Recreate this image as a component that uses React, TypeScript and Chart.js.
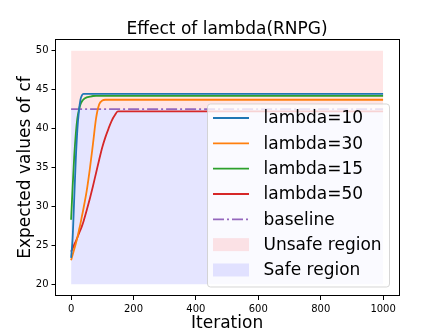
import React, { useEffect, useRef } from "react";
import { Chart, registerables } from "chart.js";

Chart.register(...registerables);

// ---- data ----
const iterations = [0, 5, 10, 15, 20, 25, 30, 35, 40, 50, 60, 70, 80, 90, 100, 110, 120, 130, 140, 150, 160, 1000];
const lambda10 = [23.4, 26.0, 31.0, 36.0, 39.8, 42.2, 43.7, 44.3, 44.45, 44.45, 44.45, 44.45, 44.45, 44.45, 44.45, 44.45, 44.45, 44.45, 44.45, 44.45, 44.45, 44.45];
const lambda30 = [23.1, 23.8, 24.5, 25.2, 26.0, 26.9, 27.8, 28.8, 29.8, 32.0, 34.8, 38.0, 41.3, 43.1, 43.6, 43.7, 43.7, 43.7, 43.7, 43.7, 43.7, 43.7];
const lambda15 = [28.3, 32.6, 36.4, 39.3, 41.3, 42.4, 43.1, 43.5, 43.75, 44.0, 44.1, 44.18, 44.2, 44.2, 44.2, 44.2, 44.2, 44.2, 44.2, 44.2, 44.2, 44.2];
const lambda50 = [24.2, 24.6, 25.1, 25.5, 26.0, 26.5, 27.0, 27.5, 28.1, 29.5, 31.0, 32.6, 34.3, 36.0, 37.6, 38.9, 40.0, 41.0, 41.7, 42.2, 42.2, 42.2];
const baselineX = [0, 1000];
const baselineY = [42.5, 42.5];
const regionX = [0, 1000];
const unsafeTop = [50, 50];
const unsafeBottom = 42.5;
const safeTop = [42.5, 42.5];
const safeBottom = 20;
const xTicks = [0, 200, 400, 600, 800, 1000];
const yTicks = [20, 25, 30, 35, 40, 45, 50];
const legendLabels = ["lambda=10", "lambda=30", "lambda=15", "lambda=50", "baseline", "Unsafe region", "Safe region"];

const FONT = "'DejaVu Sans', 'Liberation Sans', sans-serif";
const pts = (xs: number[], ys: number[]) => xs.map((x, i) => ({ x, y: ys[i] }));

const overlayPlugin = {
  id: "overlay",
  afterDraw(chart: any) {
    const ctx = chart.ctx as CanvasRenderingContext2D;
    const a = chart.chartArea;
    const ds = chart.data.datasets;
    ctx.save();
    // spines
    ctx.strokeStyle = "#000";
    ctx.lineWidth = 1;
    ctx.strokeRect(Math.round(a.left) - 0.5, Math.round(a.top) + 0.5, Math.round(a.right - a.left) + 1, Math.round(a.bottom - a.top) - 1);

    // legend box
    const lx = 207.5, ly = 104, lw = 182, lh = 183, r = 3;
    ctx.beginPath();
    ctx.moveTo(lx + r, ly);
    ctx.lineTo(lx + lw - r, ly);
    ctx.quadraticCurveTo(lx + lw, ly, lx + lw, ly + r);
    ctx.lineTo(lx + lw, ly + lh - r);
    ctx.quadraticCurveTo(lx + lw, ly + lh, lx + lw - r, ly + lh);
    ctx.lineTo(lx + r, ly + lh);
    ctx.quadraticCurveTo(lx, ly + lh, lx, ly + lh - r);
    ctx.lineTo(lx, ly + r);
    ctx.quadraticCurveTo(lx, ly, lx + r, ly);
    ctx.closePath();
    ctx.fillStyle = "rgba(255,255,255,0.8)";
    ctx.fill();
    ctx.strokeStyle = "rgba(204,204,204,0.8)";
    ctx.lineWidth = 1;
    ctx.stroke();

    const rowY0 = 118, rowStep = 25.33;
    const hx0 = 213, hx1 = 249, tx = 263.5;
    ctx.font = `17px ${FONT}`;
    ctx.textAlign = "left";
    ctx.textBaseline = "middle";
    legendLabels.forEach((label, i) => {
      const y = rowY0 + i * rowStep;
      const d = ds[i];
      if (i < 5) {
        ctx.save();
        ctx.strokeStyle = d.borderColor;
        ctx.lineWidth = d.borderWidth;
        ctx.setLineDash(d.borderDash || []);
        ctx.beginPath();
        ctx.moveTo(hx0, y);
        ctx.lineTo(hx1, y);
        ctx.stroke();
        ctx.restore();
      } else {
        ctx.fillStyle = d.backgroundColor;
        ctx.fillRect(hx0, y - 6.5, hx1 - hx0, 13);
      }
      ctx.fillStyle = "#000";
      ctx.fillText(label, tx, y + 1);
    });

    // titles
    const cx = (a.left + a.right) / 2;
    ctx.fillStyle = "#000";
    ctx.textAlign = "center";
    ctx.textBaseline = "alphabetic";
    ctx.font = `17px ${FONT}`;
    ctx.fillText("Effect of lambda(RNPG)", cx, 34);
    ctx.fillText("Iteration", cx, 328);
    ctx.save();
    ctx.translate(29.5, (a.top + a.bottom) / 2);
    ctx.rotate(-Math.PI / 2);
    ctx.fillText("Expected values of cf", 0, 0);
    ctx.restore();
    ctx.restore();
  },
};

export default function App() {
  const ref = useRef<HTMLCanvasElement | null>(null);
  useEffect(() => {
    if (!ref.current) return;
    Chart.defaults.font.family = FONT;
    const line = (label: string, xs: number[], ys: number[], color: string, extra: any = {}) => ({
      label,
      data: pts(xs, ys),
      borderColor: color,
      backgroundColor: color,
      borderWidth: 1.8,
      pointRadius: 0,
      fill: false,
      cubicInterpolationMode: "monotone",
      ...extra,
    });
    const chart = new Chart(ref.current, {
      type: "line",
      data: {
        datasets: [
          line("lambda=10", iterations, lambda10, "#1f77b4"),
          line("lambda=30", iterations, lambda30, "#ff7f0e"),
          line("lambda=15", iterations, lambda15, "#2ca02c"),
          line("lambda=50", iterations, lambda50, "#d62728"),
          line("baseline", baselineX, baselineY, "#9467bd", { borderDash: [11, 3, 2, 3] }),
          {
            label: "Unsafe region",
            data: pts(regionX, unsafeTop),
            borderColor: "transparent",
            backgroundColor: "rgba(255,0,0,0.1)",
            borderWidth: 0,
            pointRadius: 0,
            fill: { value: unsafeBottom },
          },
          {
            label: "Safe region",
            data: pts(regionX, safeTop),
            borderColor: "transparent",
            backgroundColor: "rgba(0,0,255,0.1)",
            borderWidth: 0,
            pointRadius: 0,
            fill: { value: safeBottom },
          },
        ] as any,
      },
      options: {
        animation: false,
        responsive: false,
        devicePixelRatio: 1,
        layout: { padding: { left: 0, top: 39, right: 44.3, bottom: 0 } },
        plugins: {
          legend: { display: false },
          title: { display: false },
          tooltip: { enabled: false },
        },
        scales: {
          x: {
            type: "linear",
            min: -50,
            max: 1050,
            afterBuildTicks: (axis: any) => {
              axis.ticks = xTicks.map((v) => ({ value: v }));
            },
            afterFit: (axis: any) => {
              axis.height = 36;
            },
            grid: { drawOnChartArea: false, drawTicks: true, tickLength: 4, color: "#000", lineWidth: 1 },
            border: { display: false },
            ticks: {
              autoSkip: false,
              maxRotation: 0,
              padding: 3,
              color: "#000",
              font: { size: 10, family: FONT },
              callback: (v: any) => String(v),
            },
          },
          y: {
            type: "linear",
            min: 18.5,
            max: 51.5,
            afterBuildTicks: (axis: any) => {
              axis.ticks = yTicks.map((v) => ({ value: v }));
            },
            afterFit: (axis: any) => {
              axis.width = 55.5;
            },
            grid: { drawOnChartArea: false, drawTicks: true, tickLength: 4, color: "#000", lineWidth: 1 },
            border: { display: false },
            ticks: {
              autoSkip: false,
              padding: 3,
              color: "#000",
              font: { size: 10, family: FONT },
              callback: (v: any) => String(v),
            },
          },
        },
      } as any,
      plugins: [overlayPlugin],
    });
    return () => chart.destroy();
  }, []);
  return (
    <div style={{ position: "absolute", left: 0, top: 0, width: 443, height: 332, background: "#fff" }}>
      <canvas ref={ref} width={443} height={332} style={{ display: "block" }} />
    </div>
  );
}
